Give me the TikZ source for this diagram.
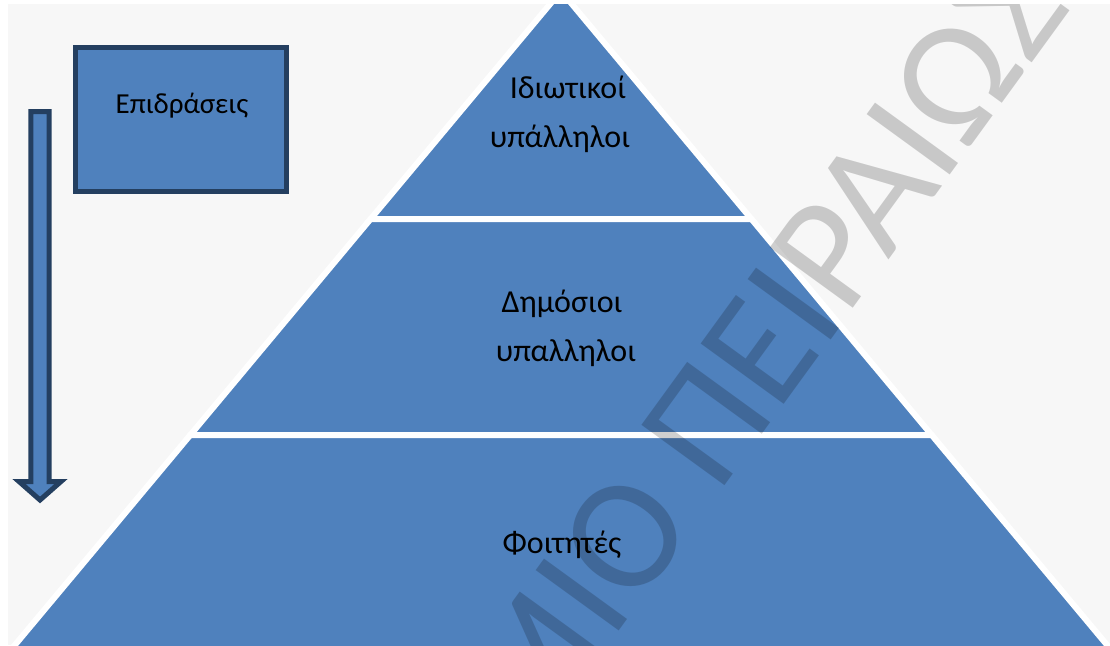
\documentclass[tikz,border=0pt]{standalone}
\usepackage{fontspec}
\setmainfont{Carlito}

\definecolor{tierblue}{HTML}{4F81BD}
\definecolor{edgeblue}{HTML}{243F60}
\definecolor{paper}{HTML}{F7F7F7}

\tikzset{
  tier/.style={fill=tierblue,draw=white,line width=6pt},
  blockline/.style={fill=tierblue,draw=edgeblue,line width=5pt},
  tiertext/.style={font=\fontsize{32}{38}\selectfont,inner sep=0pt,anchor=base}
}

\begin{document}
\begin{tikzpicture}[x=1pt,y=-1pt]
\useasboundingbox (0,0) rectangle (1110,645);
\begin{scope}
\clip (0,0) rectangle (1110,645);
\fill[paper] (0,0) rectangle (1110,645);

% pyramid, top tier first:
\draw[tier] (561,-9) -- (751.4,219) -- (370.6,219) -- cycle;
\draw[tier] (370.6,219) -- (751.4,219) -- (931.7,435) -- (190.3,435) -- cycle;
\draw[tier] (190.3,435) -- (931.7,435) -- (1119.6,660) -- (2.4,660) -- cycle;

\node[tiertext] (top1) at (568,98) {Ιδιωτικοί};
\node[tiertext] (top2) at (560,147) {υπάλληλοι};
\node[tiertext] (mid1) at (562,312) {Δημόσιοι};
\node[tiertext] (mid2) at (566,361) {υπαλληλοι};
\node[tiertext] (base1) at (562,553) {Φοιτητές};

% box and downward arrow on the left:
\node[blockline,minimum width=211pt,minimum height=144pt,inner sep=0pt] (effects) at (181,119.5) {};
\node[tiertext,font=\fontsize{29}{34}\selectfont] (effectsname) at (182,113) {Επιδράσεις};
\draw[blockline] (30.8,111.5) -- (49.2,111.5) -- (49.2,481.5) -- (61,481.5)
  -- (40,500) -- (19,481.5) -- (30.8,481.5) -- cycle;

% watermark:
\node[rotate=54,inner sep=0pt,text=black,text opacity=0.19,
  font=\fontsize{160}{160}\selectfont] (mark) at (760,350) {ΜΙΟ ΠΕΙΡΑΙΩΣ};

% margins of the sheet:
\fill[white] (0,0) rectangle (1110,4);
\fill[white] (0,0) rectangle (8,645);
\end{scope}
\end{tikzpicture}
\end{document}
